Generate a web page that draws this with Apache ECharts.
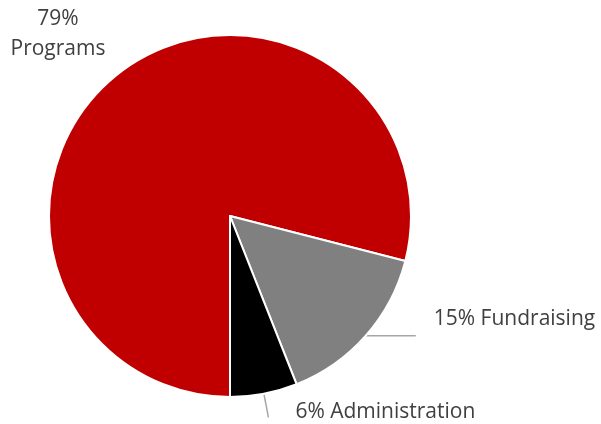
<!DOCTYPE html>
<html><head><meta charset="utf-8">
<script src="https://cdn.jsdelivr.net/npm/echarts@6/dist/echarts.min.js"></script>
<style>html,body{margin:0;padding:0;background:#fff}#c{width:601px;height:424px}</style>
</head><body><div id="c"></div>
<script>
const categories = ['Programs', 'Fundraising', 'Administration'];
const values = [79, 15, 6];
const colors = ['#C00000', '#808080', '#000000'];

const chart = echarts.init(document.getElementById('c'), null, {renderer: 'canvas'});
const textStyle = {color: '#404040', fontFamily: 'Open Sans', fontSize: 21};
const rich = {
  t: {color: '#404040', fontFamily: 'Open Sans', fontSize: 21, lineHeight: 24},
  s1: {lineHeight: 34, fontSize: 1},
  s2: {lineHeight: 10, fontSize: 1}
};
const itemOpts = [
  {label: {formatter: '{c}%\n{b}', lineHeight: 30}, labelLine: {show: false}},
  {label: {formatter: '{t|{c}% {b}}\n{s1|}', rich: rich, distanceToLabelLine: 18}, labelLine: {length: 0, length2: 50}},
  {label: {formatter: '{t|{c}% {b}}\n{s2|}', rich: rich, distanceToLabelLine: 27}, labelLine: {length: 24, length2: 0}}
];
const data = categories.map((name, i) => Object.assign({
  name: name, value: values[i], itemStyle: {color: colors[i]}
}, itemOpts[i]));

chart.setOption({
  animation: false,
  series: [{
    type: 'pie',
    center: [230, 216],
    radius: 181,
    startAngle: 270,
    clockwise: true,
    avoidLabelOverlap: false,
    itemStyle: {borderColor: '#ffffff', borderWidth: 2},
    label: Object.assign({show: true, position: 'outside', alignTo: 'none'}, textStyle),
    labelLine: {show: true, smooth: false, lineStyle: {color: '#A6A6A6', width: 1.5}},
    labelLayout: function (p) {
      if (p.dataIndex === 0) {
        return {x: 58, y: 34, align: 'center', verticalAlign: 'middle'};
      }
      return {};
    },
    emphasis: {disabled: true},
    data: data
  }]
});
</script></body></html>
